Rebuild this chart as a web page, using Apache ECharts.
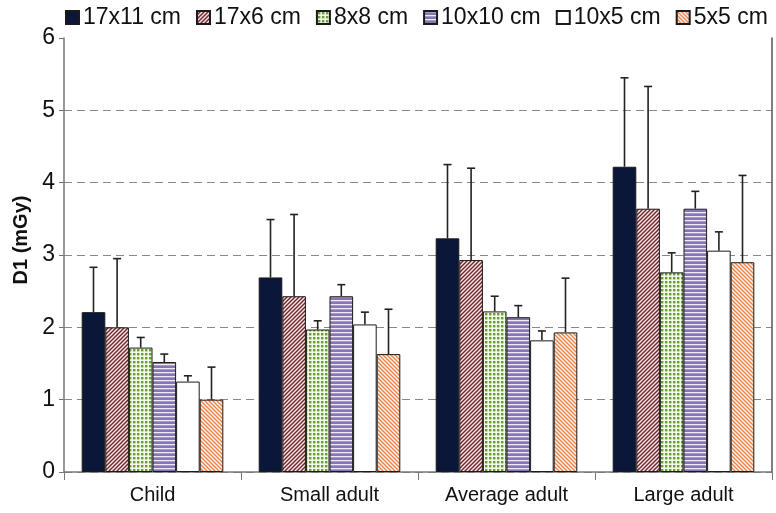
<!DOCTYPE html>
<html><head><meta charset="utf-8">
<script src="https://cdn.jsdelivr.net/npm/echarts@6/dist/echarts.min.js"></script>
<style>html,body{margin:0;padding:0;background:#fff}#c{width:776px;height:513px}</style>
</head><body><div id="c"></div>
<script>
var categories = ['Child', 'Small adult', 'Average adult', 'Large adult'];
var seriesNames = ['17x11 cm', '17x6 cm', '8x8 cm', '10x10 cm', '10x5 cm', '5x5 cm'];
var yTicks = [0, 1, 2, 3, 4, 5, 6];
// mean values per series (Child, Small adult, Average adult, Large adult)
var s17x11 = [2.21, 2.69, 3.23, 4.22];
var s17x6  = [2.00, 2.43, 2.93, 3.64];
var s8x8   = [1.72, 1.97, 2.22, 2.76];
var s10x10 = [1.52, 2.43, 2.14, 3.64];
var s10x5  = [1.25, 2.04, 1.82, 3.06];
var s5x5   = [1.00, 1.63, 1.93, 2.90];
// upper end of error bars
var e17x11 = [2.83, 3.49, 4.25, 5.45];
var e17x6  = [2.95, 3.56, 4.20, 5.33];
var e8x8   = [1.86, 2.09, 2.43, 3.03];
var e10x10 = [1.63, 2.59, 2.30, 3.88];
var e10x5  = [1.33, 2.21, 1.95, 3.32];
var e5x5   = [1.45, 2.25, 2.68, 4.10];

var means = [s17x11, s17x6, s8x8, s10x10, s10x5, s5x5];
var uppers = [e17x11, e17x6, e8x8, e10x10, e10x5, e5x5];

function pat(w, h, draw) {
  var c = document.createElement('canvas'); c.width = w; c.height = h;
  var g = c.getContext('2d'); draw(g, w, h);
  return {image: c, repeat: 'repeat'};
}
var fills = [
  '#0b1738',
  pat(4, 4, function (g, w, h) {
    g.fillStyle = '#fbeeee'; g.fillRect(0, 0, w, h);
    g.strokeStyle = '#74262e'; g.lineWidth = 1.5;
    g.beginPath(); g.moveTo(-1, 5); g.lineTo(5, -1); g.moveTo(-1, 1); g.lineTo(1, -1); g.moveTo(3, 5); g.lineTo(5, 3); g.stroke();
  }),
  pat(4, 4, function (g, w, h) {
    g.fillStyle = '#f2f8e6'; g.fillRect(0, 0, w, h);
    g.fillStyle = '#6a9a3a'; g.fillRect(1, 1, 2.4, 2.4);
  }),
  pat(4, 4, function (g, w, h) {
    g.fillStyle = '#8876b2'; g.fillRect(0, 0, w, h);
    g.fillStyle = '#efeaf7'; g.fillRect(0, 0, w, 1.3);
  }),
  '#ffffff',
  pat(4, 4, function (g, w, h) {
    g.fillStyle = '#fff4ec'; g.fillRect(0, 0, w, h);
    g.strokeStyle = '#e8844a'; g.lineWidth = 1.4;
    g.beginPath(); g.moveTo(-1, -1); g.lineTo(5, 5); g.moveTo(3, -1); g.lineTo(5, 1); g.moveTo(-1, 3); g.lineTo(1, 5); g.stroke();
  })
];

var series = [];
seriesNames.forEach(function (n, i) {
  series.push({
    name: n, type: 'bar', data: means[i], barGap: '0%', barCategoryGap: '20%',
    itemStyle: {color: fills[i], borderColor: '#1a1a1a', borderWidth: 1},
    emphasis: {disabled: true}
  });
});
var errData = [];
for (var s = 0; s < 6; s++) for (var k = 0; k < 4; k++) errData.push([k, means[s][k], uppers[s][k], s]);
series.push({
  type: 'custom', name: 'err', data: errData, z: 10,
  renderItem: function (params, api) {
    var k = api.value(0), m = api.value(1), u = api.value(2), s = api.value(3);
    var band = api.size([1, 0])[0];
    var bw = band * 0.8 / 6;
    var p0 = api.coord([k, m]);
    var p1 = api.coord([k, u]);
    var x = p0[0] + (s - 2.5) * bw;
    var st = {stroke: '#222', lineWidth: 1.6};
    return {type: 'group', children: [
      {type: 'line', shape: {x1: x, y1: p0[1], x2: x, y2: p1[1]}, style: st},
      {type: 'line', shape: {x1: x - 4, y1: p1[1], x2: x + 4, y2: p1[1]}, style: st}
    ]};
  }
});

var chart = echarts.init(document.getElementById('c'));
chart.setOption({
  animation: false,
  textStyle: {fontFamily: 'Liberation Sans, Arial, sans-serif'},
  legend: {
    data: seriesNames, top: 1, left: 60, itemWidth: 13, itemHeight: 13, itemGap: 15,
    icon: 'rect',
    textStyle: {fontSize: 23, color: '#111', padding: [0, 0, 0, -1]}
  },
  grid: {left: 64, right: 4, top: 38, bottom: 41},
  graphic: [{
    type: 'text', x: 21, y: 240, rotation: Math.PI / 2,
    style: {text: 'D1 (mGy)', font: 'bold 20px "Liberation Sans", Arial, sans-serif', fill: '#111', textAlign: 'center', textVerticalAlign: 'middle'}
  }],
  xAxis: {
    type: 'category', data: categories,
    axisLine: {lineStyle: {color: '#777', width: 1.5}},
    axisTick: {show: true, length: 8, lineStyle: {color: '#777'}},
    axisLabel: {fontSize: 20, color: '#111', margin: 13}
  },
  yAxis: [{
    type: 'value', min: 0, max: 6, interval: 1,
    axisLine: {show: true, lineStyle: {color: '#777', width: 1.5}},
    axisTick: {show: true, length: 5, lineStyle: {color: '#777'}},
    axisLabel: {fontSize: 23, color: '#111', margin: 9, formatter: function (v) { return yTicks.indexOf(v) >= 0 ? String(v) : ''; }},
    splitLine: {showMaxLine: false, lineStyle: {color: '#888', type: [8, 5], width: 1.2}}
  }, {
    type: 'value', min: 0, max: 6, interval: 1, position: 'right',
    axisLine: {show: true, lineStyle: {color: '#555', width: 1.5}},
    axisTick: {show: false}, axisLabel: {show: false}, splitLine: {show: false}
  }],
  series: series
});
</script></body></html>
